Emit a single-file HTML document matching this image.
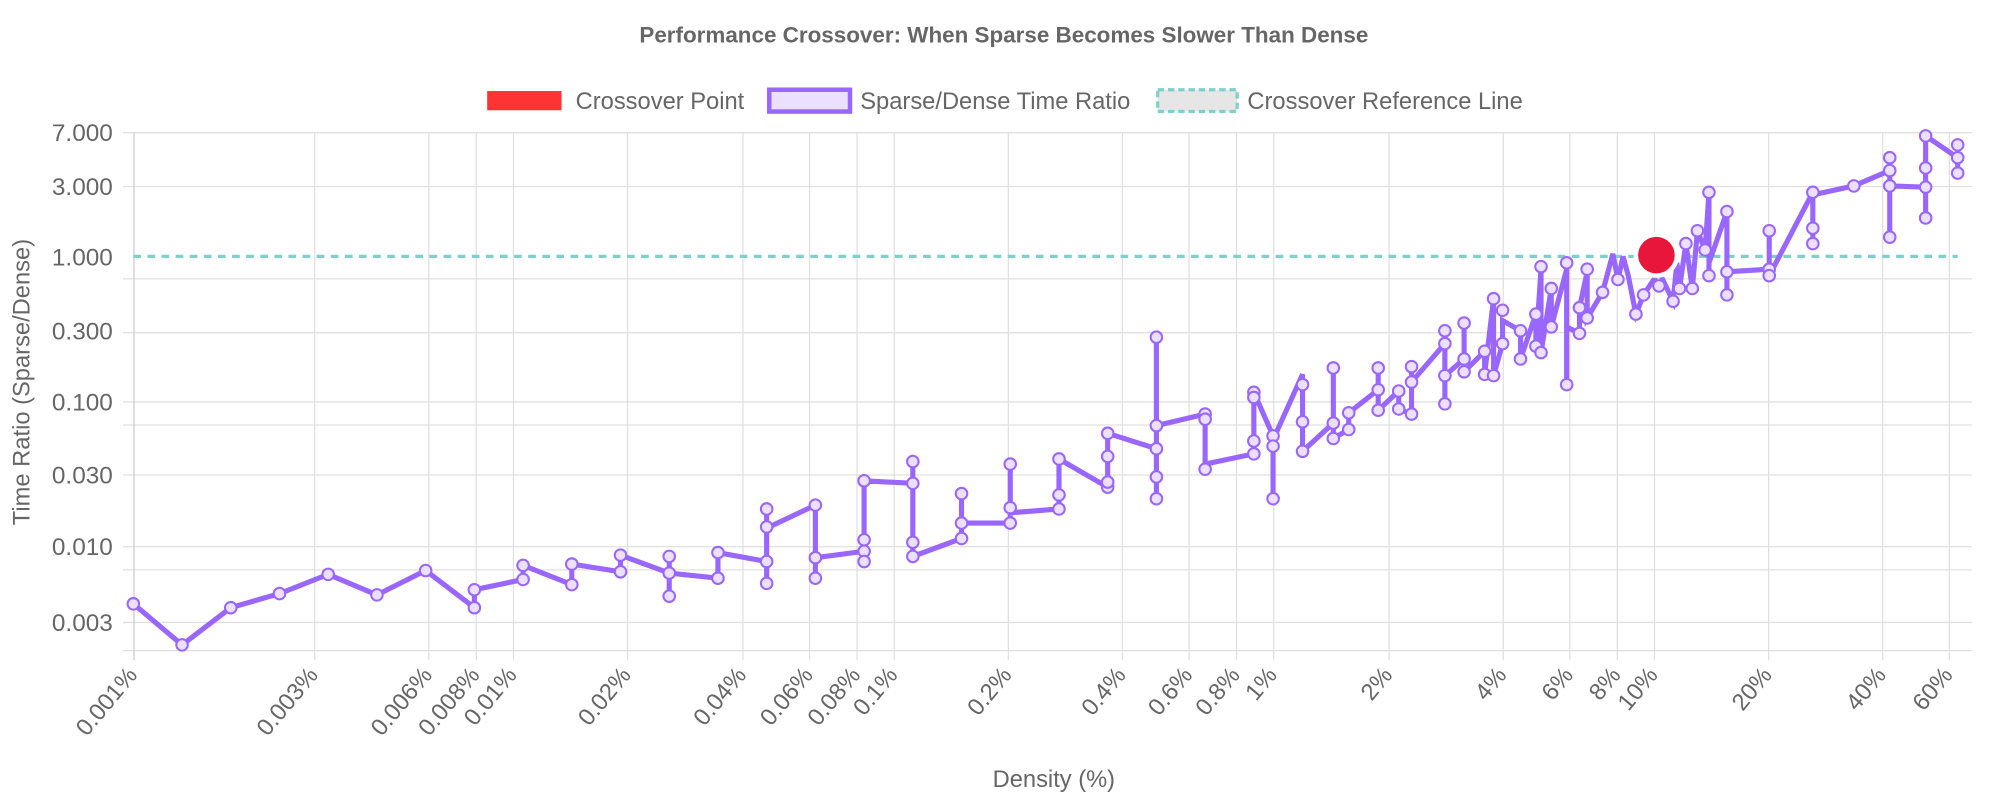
<!DOCTYPE html>
<html><head><meta charset="utf-8"><style>
html,body{margin:0;padding:0;background:#fff;}
svg{display:block;font-family:"Liberation Sans",Arial,sans-serif;}
</style></head><body>
<svg width="2000" height="800" viewBox="0 0 1560 624" xmlns="http://www.w3.org/2000/svg">
<rect width="1560" height="624" fill="#fff"/>
<text x="783" y="33" text-anchor="middle" font-size="17.5" font-weight="bold" fill="#666">Performance Crossover: When Sparse Becomes Slower Than Dense</text>
<!-- legend -->
<rect x="380" y="71" width="58" height="15" fill="#ff3333"/>
<text x="449" y="85" font-size="18.5" fill="#666">Crossover Point</text>
<rect x="600" y="70" width="63" height="17" fill="#ebe0ff" stroke="#9966ff" stroke-width="3.5"/>
<text x="671" y="85" font-size="18.5" fill="#666">Sparse/Dense Time Ratio</text>
<rect x="903" y="70" width="62" height="17" fill="#e6e6e6" stroke="#7fd0cc" stroke-width="2.5" stroke-dasharray="5,3"/>
<text x="973" y="85" font-size="18.5" fill="#666">Crossover Reference Line</text>
<!-- horizontal grid -->
<g stroke="#e0e0e0" stroke-width="1">
<line x1="96" x2="1538" y1="103.5" y2="103.5"/>
<line x1="96" x2="1538" y1="145.5" y2="145.5"/>
<line x1="96" x2="1538" y1="217.5" y2="217.5"/>
<line x1="96" x2="1538" y1="259.5" y2="259.5"/>
<line x1="96" x2="1538" y1="313.5" y2="313.5"/>
<line x1="96" x2="1538" y1="331.5" y2="331.5"/>
<line x1="96" x2="1538" y1="370.5" y2="370.5"/>
<line x1="96" x2="1538" y1="426.5" y2="426.5"/>
<line x1="96" x2="1538" y1="444.5" y2="444.5"/>
<line x1="96" x2="1538" y1="485.5" y2="485.5"/>
<line x1="96" x2="1538" y1="507.5" y2="507.5"/>
</g>
<!-- vertical grid -->
<g stroke="#e0e0e0" stroke-width="1">
<line x1="245.5" x2="245.5" y1="103" y2="515"/>
<line x1="334.5" x2="334.5" y1="103" y2="515"/>
<line x1="371.5" x2="371.5" y1="103" y2="515"/>
<line x1="400.5" x2="400.5" y1="103" y2="515"/>
<line x1="489.5" x2="489.5" y1="103" y2="515"/>
<line x1="579.5" x2="579.5" y1="103" y2="515"/>
<line x1="631.5" x2="631.5" y1="103" y2="515"/>
<line x1="668.5" x2="668.5" y1="103" y2="515"/>
<line x1="697.5" x2="697.5" y1="103" y2="515"/>
<line x1="786.5" x2="786.5" y1="103" y2="515"/>
<line x1="875.5" x2="875.5" y1="103" y2="515"/>
<line x1="927.5" x2="927.5" y1="103" y2="515"/>
<line x1="964.5" x2="964.5" y1="103" y2="515"/>
<line x1="993.5" x2="993.5" y1="103" y2="515"/>
<line x1="1083.5" x2="1083.5" y1="103" y2="515"/>
<line x1="1172.5" x2="1172.5" y1="103" y2="515"/>
<line x1="1224.5" x2="1224.5" y1="103" y2="515"/>
<line x1="1261.5" x2="1261.5" y1="103" y2="515"/>
<line x1="1290.5" x2="1290.5" y1="103" y2="515"/>
<line x1="1379.5" x2="1379.5" y1="103" y2="515"/>
<line x1="1468.5" x2="1468.5" y1="103" y2="515"/>
<line x1="1520.5" x2="1520.5" y1="103" y2="515"/>
</g>
<line x1="104.5" x2="104.5" y1="103" y2="515" stroke="#ccc" stroke-width="1"/>
<!-- y labels -->
<g font-size="19" fill="#666" text-anchor="end">
<text x="88" y="110">7.000</text>
<text x="88" y="152">3.000</text>
<text x="88" y="207">1.000</text>
<text x="88" y="265">0.300</text>
<text x="88" y="320">0.100</text>
<text x="88" y="377">0.030</text>
<text x="88" y="433">0.010</text>
<text x="88" y="492">0.003</text>
</g>
<text transform="translate(23,298) rotate(-90)" text-anchor="middle" font-size="18.5" fill="#666">Time Ratio (Sparse/Dense)</text>
<!-- x labels -->
<g font-size="18.5" fill="#666" text-anchor="end">
<text transform="translate(108,527) rotate(-50)">0.001%</text>
<text transform="translate(249,527) rotate(-50)">0.003%</text>
<text transform="translate(338,527) rotate(-50)">0.006%</text>
<text transform="translate(375,527) rotate(-50)">0.008%</text>
<text transform="translate(404,527) rotate(-50)">0.01%</text>
<text transform="translate(493,527) rotate(-50)">0.02%</text>
<text transform="translate(583,527) rotate(-50)">0.04%</text>
<text transform="translate(635,527) rotate(-50)">0.06%</text>
<text transform="translate(672,527) rotate(-50)">0.08%</text>
<text transform="translate(701,527) rotate(-50)">0.1%</text>
<text transform="translate(790,527) rotate(-50)">0.2%</text>
<text transform="translate(879,527) rotate(-50)">0.4%</text>
<text transform="translate(931,527) rotate(-50)">0.6%</text>
<text transform="translate(968,527) rotate(-50)">0.8%</text>
<text transform="translate(997,527) rotate(-50)">1%</text>
<text transform="translate(1087,527) rotate(-50)">2%</text>
<text transform="translate(1176,527) rotate(-50)">4%</text>
<text transform="translate(1228,527) rotate(-50)">6%</text>
<text transform="translate(1265,527) rotate(-50)">8%</text>
<text transform="translate(1294,527) rotate(-50)">10%</text>
<text transform="translate(1383,527) rotate(-50)">20%</text>
<text transform="translate(1472,527) rotate(-50)">40%</text>
<text transform="translate(1524,527) rotate(-50)">60%</text>
</g>
<text x="822" y="614" text-anchor="middle" font-size="18.5" fill="#666">Density (%)</text>
<!-- reference line -->
<line x1="104" x2="1527" y1="200" y2="200" stroke="#7fd0cc" stroke-width="2.5" stroke-dasharray="6,5"/>
<!-- series -->
<polyline fill="none" stroke="#9966ff" stroke-width="4" stroke-linejoin="miter" points="104,471 142,503 180,474 218,463 256,448 294,464 332,445 370,474 370,460 408,452 408,441 446,456 446,440 484,446 484,433 522,447 522,434 522,465 522,447 560,451 560,431 598,438 598,455 598,411 598,397 598,412 636,394 636,451 636,435 674,430 674,421 674,438 674,375 712,377 712,360 712,434 750,420 750,385 750,408 788,408 788,396 788,362 788,400 826,397 826,386 826,358 864,380 864,356 864,376 864,338 902,350 902,389 902,372 902,263 902,332 940,323 940,366 940,362 978,354 978,344 978,306 993,340 993,389 993,343 1016,292 1016,329 1016,352 1040,330 1040,287 1040,342 1052,335 1052,322 1075,304 1075,287 1075,320 1091,305 1091,319 1101,323 1101,286 1101,298 1127,268 1127,315 1127,258 1127,293 1142,280 1142,255 1142,290 1158,274 1158,292 1165,233 1165,293 1172,268 1172,250 1186,258 1186,280 1198,245 1198,270 1202,210 1202,275 1210,225 1210,255 1222,210 1222,300 1222,255 1232,260 1232,240 1238,212 1238,248 1250,228 1258,198 1262,218 1266,200 1270,215 1276,245 1282,230 1294,212 1305,235 1308,205 1310,225 1315,190 1320,225 1324,180 1330,195 1333,150 1333,215 1333,205 1347,165 1347,230 1347,212 1380,210 1380,180 1380,215 1414,150 1414,190 1414,152 1446,145 1474,133 1474,123 1474,185 1474,145 1502,146 1502,131 1502,170 1502,106 1527,123 1527,135"/>
<g fill="#ebe0ff" stroke="#9966ff" stroke-width="1.6">
<circle cx="104" cy="471" r="4.5"/><circle cx="142" cy="503" r="4.5"/><circle cx="180" cy="474" r="4.5"/><circle cx="218" cy="463" r="4.5"/><circle cx="256" cy="448" r="4.5"/><circle cx="294" cy="464" r="4.5"/><circle cx="332" cy="445" r="4.5"/><circle cx="370" cy="474" r="4.5"/><circle cx="370" cy="460" r="4.5"/><circle cx="408" cy="452" r="4.5"/><circle cx="408" cy="441" r="4.5"/><circle cx="446" cy="456" r="4.5"/><circle cx="446" cy="440" r="4.5"/><circle cx="484" cy="446" r="4.5"/><circle cx="484" cy="433" r="4.5"/><circle cx="522" cy="434" r="4.5"/><circle cx="522" cy="465" r="4.5"/><circle cx="522" cy="447" r="4.5"/><circle cx="560" cy="451" r="4.5"/><circle cx="560" cy="431" r="4.5"/><circle cx="598" cy="438" r="4.5"/><circle cx="598" cy="455" r="4.5"/><circle cx="598" cy="411" r="4.5"/><circle cx="598" cy="397" r="4.5"/><circle cx="636" cy="394" r="4.5"/><circle cx="636" cy="451" r="4.5"/><circle cx="636" cy="435" r="4.5"/><circle cx="674" cy="430" r="4.5"/><circle cx="674" cy="421" r="4.5"/><circle cx="674" cy="438" r="4.5"/><circle cx="674" cy="375" r="4.5"/><circle cx="712" cy="377" r="4.5"/><circle cx="712" cy="360" r="4.5"/><circle cx="712" cy="434" r="4.5"/><circle cx="712" cy="423" r="4.5"/><circle cx="750" cy="420" r="4.5"/><circle cx="750" cy="385" r="4.5"/><circle cx="750" cy="408" r="4.5"/><circle cx="788" cy="408" r="4.5"/><circle cx="788" cy="396" r="4.5"/><circle cx="788" cy="362" r="4.5"/><circle cx="826" cy="397" r="4.5"/><circle cx="826" cy="386" r="4.5"/><circle cx="826" cy="358" r="4.5"/><circle cx="864" cy="380" r="4.5"/><circle cx="864" cy="376" r="4.5"/><circle cx="864" cy="356" r="4.5"/><circle cx="864" cy="338" r="4.5"/><circle cx="902" cy="350" r="4.5"/><circle cx="902" cy="389" r="4.5"/><circle cx="902" cy="372" r="4.5"/><circle cx="902" cy="263" r="4.5"/><circle cx="902" cy="332" r="4.5"/><circle cx="940" cy="323" r="4.5"/><circle cx="940" cy="366" r="4.5"/><circle cx="940" cy="327" r="4.5"/><circle cx="978" cy="354" r="4.5"/><circle cx="978" cy="344" r="4.5"/><circle cx="978" cy="306" r="4.5"/><circle cx="978" cy="310" r="4.5"/><circle cx="993" cy="340" r="4.5"/><circle cx="993" cy="389" r="4.5"/><circle cx="993" cy="348" r="4.5"/><circle cx="1016" cy="329" r="4.5"/><circle cx="1016" cy="352" r="4.5"/><circle cx="1016" cy="300" r="4.5"/><circle cx="1040" cy="330" r="4.5"/><circle cx="1040" cy="287" r="4.5"/><circle cx="1040" cy="342" r="4.5"/><circle cx="1052" cy="335" r="4.5"/><circle cx="1052" cy="322" r="4.5"/><circle cx="1075" cy="304" r="4.5"/><circle cx="1075" cy="287" r="4.5"/><circle cx="1075" cy="320" r="4.5"/><circle cx="1091" cy="305" r="4.5"/><circle cx="1091" cy="319" r="4.5"/><circle cx="1101" cy="323" r="4.5"/><circle cx="1101" cy="286" r="4.5"/><circle cx="1101" cy="298" r="4.5"/><circle cx="1127" cy="268" r="4.5"/><circle cx="1127" cy="315" r="4.5"/><circle cx="1127" cy="258" r="4.5"/><circle cx="1127" cy="293" r="4.5"/><circle cx="1142" cy="280" r="4.5"/><circle cx="1142" cy="252" r="4.5"/><circle cx="1142" cy="290" r="4.5"/><circle cx="1158" cy="274" r="4.5"/><circle cx="1158" cy="292" r="4.5"/><circle cx="1165" cy="233" r="4.5"/><circle cx="1165" cy="293" r="4.5"/><circle cx="1172" cy="268" r="4.5"/><circle cx="1172" cy="242" r="4.5"/><circle cx="1186" cy="258" r="4.5"/><circle cx="1186" cy="280" r="4.5"/><circle cx="1198" cy="245" r="4.5"/><circle cx="1198" cy="270" r="4.5"/><circle cx="1202" cy="208" r="4.5"/><circle cx="1202" cy="275" r="4.5"/><circle cx="1210" cy="225" r="4.5"/><circle cx="1210" cy="255" r="4.5"/><circle cx="1222" cy="205" r="4.5"/><circle cx="1222" cy="300" r="4.5"/><circle cx="1232" cy="260" r="4.5"/><circle cx="1232" cy="240" r="4.5"/><circle cx="1238" cy="210" r="4.5"/><circle cx="1238" cy="248" r="4.5"/><circle cx="1250" cy="228" r="4.5"/><circle cx="1262" cy="218" r="4.5"/><circle cx="1276" cy="245" r="4.5"/><circle cx="1282" cy="230" r="4.5"/><circle cx="1294" cy="223" r="4.5"/><circle cx="1305" cy="235" r="4.5"/><circle cx="1310" cy="225" r="4.5"/><circle cx="1315" cy="190" r="4.5"/><circle cx="1320" cy="225" r="4.5"/><circle cx="1324" cy="180" r="4.5"/><circle cx="1330" cy="195" r="4.5"/><circle cx="1333" cy="150" r="4.5"/><circle cx="1333" cy="215" r="4.5"/><circle cx="1347" cy="165" r="4.5"/><circle cx="1347" cy="230" r="4.5"/><circle cx="1347" cy="212" r="4.5"/><circle cx="1380" cy="210" r="4.5"/><circle cx="1380" cy="180" r="4.5"/><circle cx="1380" cy="215" r="4.5"/><circle cx="1414" cy="150" r="4.5"/><circle cx="1414" cy="190" r="4.5"/><circle cx="1414" cy="178" r="4.5"/><circle cx="1446" cy="145" r="4.5"/><circle cx="1474" cy="133" r="4.5"/><circle cx="1474" cy="123" r="4.5"/><circle cx="1474" cy="185" r="4.5"/><circle cx="1474" cy="145" r="4.5"/><circle cx="1502" cy="146" r="4.5"/><circle cx="1502" cy="131" r="4.5"/><circle cx="1502" cy="170" r="4.5"/><circle cx="1502" cy="106" r="4.5"/><circle cx="1527" cy="113" r="4.5"/><circle cx="1527" cy="123" r="4.5"/><circle cx="1527" cy="135" r="4.5"/>
</g>
<!-- crossover point -->
<circle cx="1292" cy="199" r="16" fill="#e8163a" stroke="#fff" stroke-width="3.5"/>
</svg>
</body></html>
